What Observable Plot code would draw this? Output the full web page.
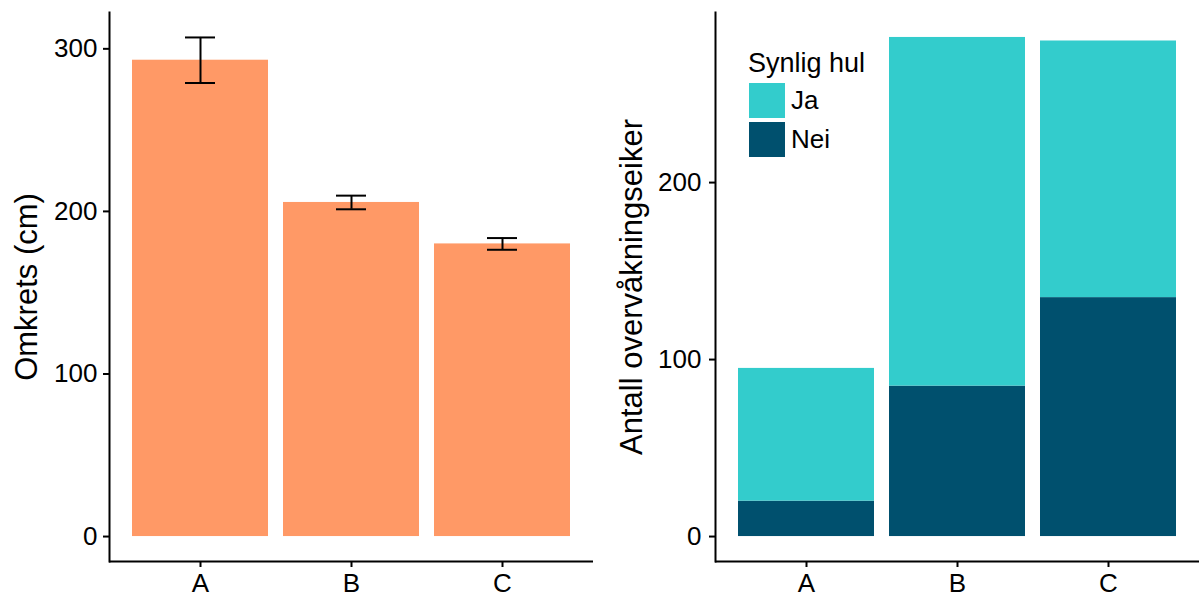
<!DOCTYPE html>
<html><head><meta charset="utf-8">
<script src="https://cdn.jsdelivr.net/npm/d3@7"></script>
<script src="https://cdn.jsdelivr.net/npm/@observablehq/plot@0.6"></script>
<style>
body{margin:0;background:#fff;}
#wrap{position:relative;width:1199px;height:598px;display:flex;font-family:"Liberation Sans",Arial,sans-serif;}
#wrap svg{font-family:"Liberation Sans",Arial,sans-serif;overflow:visible;}
.lg{position:absolute;color:#000;white-space:nowrap;}
</style></head><body><div id="wrap"></div>
<script>
// ---- data ----
const plots = ["A", "B", "C"];
const omkretsMean = [293, 205.5, 180];
const omkretsSE = [14, 4.2, 3.6];
const hulLevels = ["Nei", "Ja"];          // stacking order (bottom first)
const legendLevels = ["Ja", "Nei"];
const antallNei = [20, 85, 135];
const antallJa = [75, 197, 145];
const yTicksLeft = [0, 100, 200, 300];
const yTicksRight = [0, 100, 200];
const yLabelLeft = "Omkrets (cm)";
const yLabelRight = "Antall overvåkningseiker";
const legendTitle = "Synlig hul";

const FONT = "Liberation Sans, Arial, sans-serif";
const wrap = document.getElementById("wrap");

// ---- left chart ----
const left = plots.map((p, i) => ({plot: p, mean: omkretsMean[i], lo: omkretsMean[i] - omkretsSE[i], hi: omkretsMean[i] + omkretsSE[i]}));
const lMax = d3.max(left, d => d.hi);
const lMin = -0.05 * lMax;
const chartL = Plot.plot({
  width: 600, height: 598,
  marginLeft: 109, marginRight: 7, marginTop: 12, marginBottom: 37,
  style: {fontFamily: FONT, fontSize: "26px", color: "#000", background: "white"},
  x: {domain: plots, paddingInner: 0.1, paddingOuter: 0.15, label: null},
  y: {domain: [lMin, lMax * 1.05], label: null},
  marks: [
    Plot.barY(left, {x: "plot", y: "mean", fill: "#FF9966"}),
    Plot.ruleX(left, {x: "plot", y1: "lo", y2: "hi", stroke: "black", strokeWidth: 2}),
    Plot.tickY(left, {x: "plot", y: "lo", stroke: "black", strokeWidth: 2, inset: 53}),
    Plot.tickY(left, {x: "plot", y: "hi", stroke: "black", strokeWidth: 2, inset: 53}),
    Plot.ruleY([lMin], {stroke: "black", strokeWidth: 2}),
    Plot.frame({anchor: "left", stroke: "black", strokeWidth: 2}),
    Plot.axisX({tickSize: 6, tickPadding: 6, strokeWidth: 2, fontSize: 26, label: null}),
    Plot.axisY({ticks: yTicksLeft, tickSize: 6, tickPadding: 6, strokeWidth: 2, fontSize: 26, label: null}),
    Plot.text([yLabelLeft], {frameAnchor: "left", rotate: -90, dx: -82, fontSize: 31, textAnchor: "middle", fill: "black"})
  ]
});
wrap.appendChild(chartL);

// ---- right chart ----
const right = [];
hulLevels.forEach(h => plots.forEach((p, i) => right.push({plot: p, hul: h, n: h === "Nei" ? antallNei[i] : antallJa[i]})));
const rMax = d3.max(plots, (p, i) => antallNei[i] + antallJa[i]);
const rMin = -0.05 * rMax;
const chartR = Plot.plot({
  width: 599, height: 598,
  marginLeft: 115, marginRight: 0, marginTop: 12, marginBottom: 37,
  style: {fontFamily: FONT, fontSize: "26px", color: "#000", background: "white"},
  x: {domain: plots, paddingInner: 0.1, paddingOuter: 0.15, label: null},
  y: {domain: [rMin, rMax * 1.05], label: null},
  color: {domain: legendLevels, range: ["#33CCCC", "#00506E"]},
  marks: [
    Plot.barY(right, {x: "plot", y: "n", fill: "hul"}),
    Plot.ruleY([rMin], {stroke: "black", strokeWidth: 2}),
    Plot.frame({anchor: "left", stroke: "black", strokeWidth: 2}),
    Plot.axisX({tickSize: 6, tickPadding: 6, strokeWidth: 2, fontSize: 26, label: null}),
    Plot.axisY({ticks: yTicksRight, tickSize: 6, tickPadding: 8, strokeWidth: 2, fontSize: 26, label: null}),
    Plot.text([yLabelRight], {frameAnchor: "left", rotate: -90, dx: -83, fontSize: 31, textAnchor: "middle", fill: "black"})
  ]
});
wrap.appendChild(chartR);

// ---- legend (colors from the plot's color scale) ----
const color = chartR.scale("color");
const t = document.createElement("div");
t.className = "lg";
t.style.cssText = "left:748px;top:48px;font-size:27px;line-height:30px;";
t.textContent = legendTitle;
wrap.appendChild(t);
legendLevels.forEach((lv, i) => {
  const sw = document.createElement("div");
  sw.className = "lg";
  sw.style.cssText = `left:749px;top:${83 + i * 39}px;width:36px;height:35px;background:${color.apply(lv)};`;
  wrap.appendChild(sw);
  const lb = document.createElement("div");
  lb.className = "lg";
  lb.style.cssText = `left:791px;top:${83 + i * 39}px;height:35px;line-height:35px;font-size:26px;`;
  lb.textContent = lv;
  wrap.appendChild(lb);
});
</script></body></html>
